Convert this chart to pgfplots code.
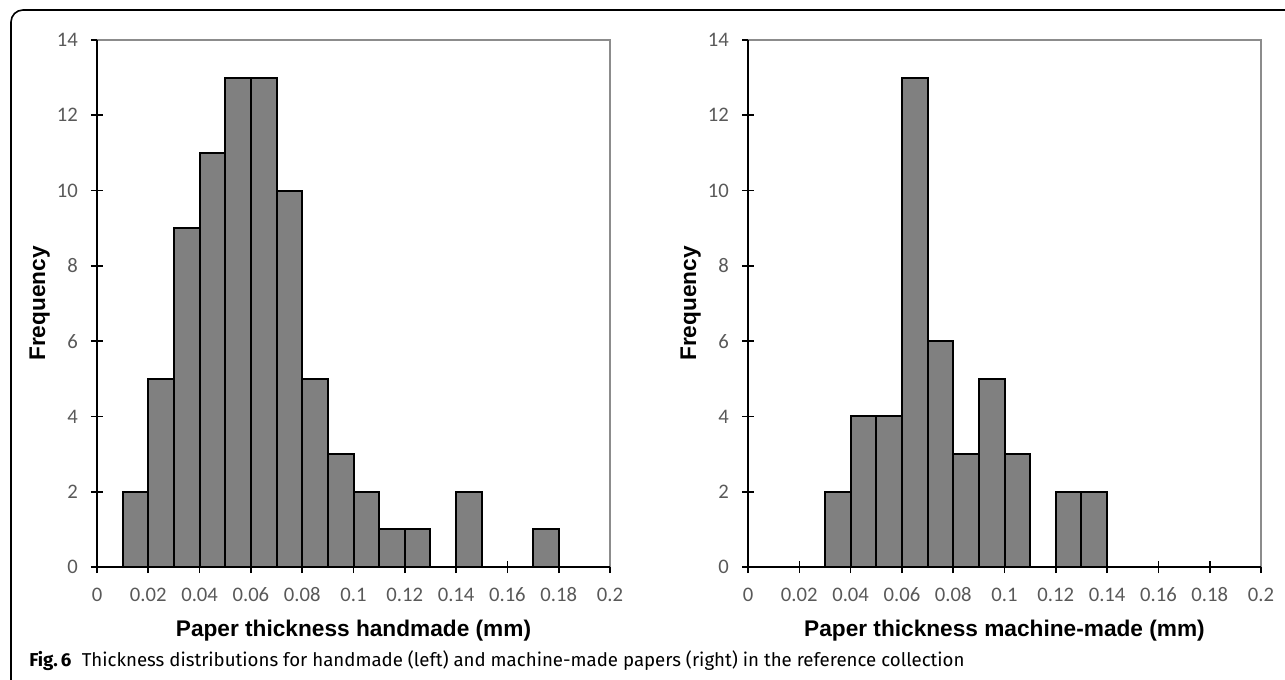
\documentclass[border=0pt]{standalone}
\usepackage{pgfplots}
\pgfplotsset{compat=1.18}
\usepackage{fontspec}
\setmainfont{Carlito}
\newfontfamily\labfont{Liberation Sans}
\newfontfamily\capfont{Fira Sans}
\definecolor{barfill}{HTML}{808080}
\definecolor{ticklab}{HTML}{595959}
\definecolor{frameg}{HTML}{8C8C8C}

\pgfplotstableread{
x y
0.01 2
0.02 5
0.03 9
0.04 11
0.05 13
0.06 13
0.07 10
0.08 5
0.09 3
0.10 2
0.11 1
0.12 1
0.13 0
0.14 2
0.15 0
0.16 0
0.17 1
0.18 0
0.19 0
0.20 0
}\handmade

\pgfplotstableread{
x y
0.00 0
0.01 0
0.02 0
0.03 2
0.04 4
0.05 4
0.06 13
0.07 6
0.08 3
0.09 5
0.10 3
0.11 0
0.12 2
0.13 2
0.14 0
0.15 0
0.16 0
0.17 0
0.18 0
0.19 0
0.20 0
}\machine

\pgfplotsset{histo/.style={
  scale only axis, width=384.75pt, height=395.25pt,
  xmin=0, xmax=0.2, ymin=0, ymax=14,
  axis line style={draw=none},
  xtick={0,0.02,0.04,0.06,0.08,0.1,0.12,0.14,0.16,0.18,0.2},
  xticklabels={0,0.02,0.04,0.06,0.08,0.1,0.12,0.14,0.16,0.18,0.2},
  ytick={0,2,4,6,8,10,12,14},
  yticklabels={0,2,4,6,8,10,12,14},
  tick pos=left,
  tick align=center,
  major tick length=9pt,
  tick style={black, line width=1.2pt},
  tick label style={font=\fontsize{15.5}{18}\selectfont, text=ticklab, inner sep=0pt},
  xticklabel style={anchor=base, yshift=-21pt},
  yticklabel style={anchor=east, xshift=-9.75pt},
  label style={font=\labfont\bfseries\fontsize{17}{20}\selectfont},
  xlabel style={at={(axis description cs:0.5,-0.1323)}, anchor=base},
  ylabel style={at={(axis description cs:-0.10136,0.5)}, anchor=base},
  ylabel=Frequency,
  clip=false,
}}

\begin{document}
\begin{tikzpicture}
\useasboundingbox (0,0) rectangle (963.75pt,-510pt);
\clip (0,0) rectangle (963.75pt,-510pt);
\draw[line width=1.2pt, rounded corners=9pt] (8.25pt,-600pt) -- (8.25pt,-7.5pt) -- (1000pt,-7.5pt);

\begin{axis}[histo, at={(72.75pt,-425.25pt)}, anchor=south west,
  xlabel={Paper thickness handmade (mm)}]
\addplot[ybar interval, fill=barfill, draw=black, line width=1.5pt] table[x=x,y=y] {\handmade};
\draw[frameg, line width=1.5pt] (rel axis cs:0,1) -- (rel axis cs:1,1) -- (rel axis cs:1,0);
\draw[black, line width=1.5pt] (rel axis cs:1,0) -- (rel axis cs:0,0) -- (rel axis cs:0,1);
\end{axis}

\begin{axis}[histo, at={(561pt,-425.25pt)}, anchor=south west,
  xlabel={Paper thickness machine-made (mm)}]
\addplot[ybar interval, fill=barfill, draw=black, line width=1.5pt] table[x=x,y=y] {\machine};
\draw[frameg, line width=1.5pt] (rel axis cs:0,1) -- (rel axis cs:1,1) -- (rel axis cs:1,0);
\draw[black, line width=1.5pt] (rel axis cs:1,0) -- (rel axis cs:0,0) -- (rel axis cs:0,1);
\end{axis}

\node[anchor=base west, inner sep=0pt, font=\capfont\fontsize{14}{17}\selectfont] at (21.75pt,-500pt)
  {\textbf{Fig.\,6}\hspace{0.55em}Thickness distributions for handmade (left) and machine-made papers (right) in the reference collection};
\end{tikzpicture}
\end{document}
